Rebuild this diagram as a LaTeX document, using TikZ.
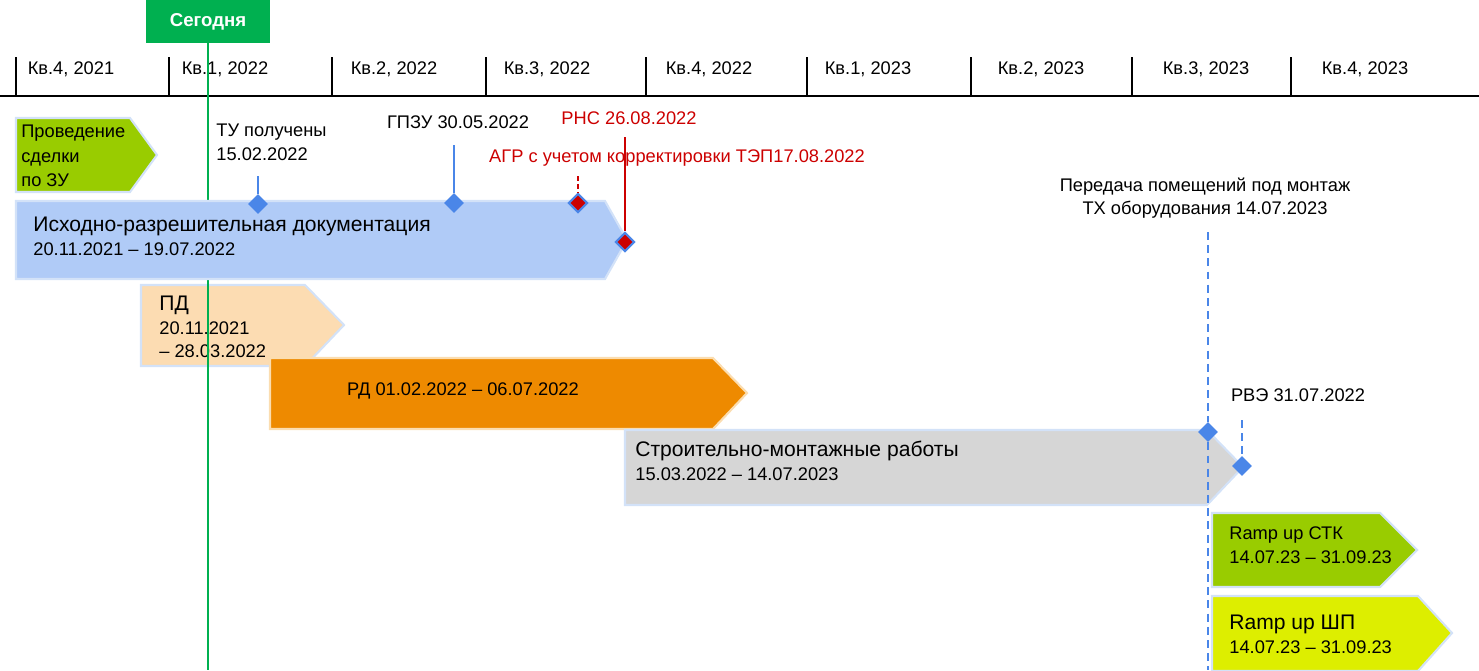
\documentclass[tikz,border=0pt]{standalone}
\usepackage{fontspec}
\setmainfont{Liberation Sans}
\usetikzlibrary{shapes.geometric}
\definecolor{todaygreen}{HTML}{00B050}
\definecolor{zugreen}{HTML}{99CC00}
\definecolor{irdblue}{HTML}{B0CBF7}
\definecolor{baredge}{HTML}{D3E2F8}
\definecolor{pdpeach}{HTML}{FCDCB2}
\definecolor{rdorange}{HTML}{EE8A00}
\definecolor{rdedge}{HTML}{FBDDB0}
\definecolor{smrgrey}{HTML}{D6D6D6}
\definecolor{shpyellow}{HTML}{DDEE00}
\definecolor{msblue}{HTML}{4A86E8}
\definecolor{msred}{HTML}{CC0000}
\newcommand\barttl{\fontsize{12}{14.5}\selectfont}
\tikzset{
  lbl/.style={font=\fontsize{10.4}{13.5}\selectfont, align=left, inner sep=0pt},
  bar/.style={fill=#1, draw=baredge, line width=1.2pt},
  ms/.style={diamond, fill=msblue, inner sep=0pt, minimum size=0.4cm},
  redms/.style={diamond, fill=msred, draw=msblue, line width=1.2pt, inner sep=0pt, minimum size=0.38cm},
  msline/.style={msblue, line width=1.1pt},
  msdash/.style={msblue, line width=1.1pt, dash pattern=on 4.5pt off 3pt},
}
\begin{document}
\begin{tikzpicture}[x=0.02cm, y=-0.02cm]
    \useasboundingbox (0,0) rectangle (1479,670);
    \draw[line width=1.1pt] (0,96) -- (1479,96);
    \foreach \x in {16,169,332,486,646,807,971,1132,1291}
        \draw[line width=0.9pt] (\x,57) -- (\x,96);
    \foreach \x/\q [count=\i] in {71/{Кв.4, 2021},225/{Кв.1, 2022},394/{Кв.2, 2022},547/{Кв.3, 2022},709/{Кв.4, 2022},868/{Кв.1, 2023},1041/{Кв.2, 2023},1206/{Кв.3, 2023},1365/{Кв.4, 2023}}
        \node[lbl] (q\i) at (\x,69) {\q};
    \path[bar=zugreen] (16,118) -- (130,118) -- (157,155) -- (130,192) -- (16,192) -- cycle;
    \node[lbl, anchor=west, font=\fontsize{10.4}{14}\selectfont] (zu) at (21,156) {Проведение\\сделки\\по ЗУ};
    \path[bar=pdpeach] (141,285) -- (305,285) -- (344,325) -- (305,366) -- (141,366) -- cycle;
    \node[lbl, anchor=west] (pd) at (159,327) {{\barttl ПД}\\20.11.2021\\– 28.03.2022};
    \node[fill=todaygreen, text=white, font=\fontsize{10.6}{12}\selectfont\bfseries, minimum width=2.5cm, minimum height=0.86cm, inner sep=0pt] (today) at (208,21.5) {Сегодня};
    \coordinate (todayend) at (208,670);
    \draw[todaygreen, line width=0.8pt] (today.south) -- (todayend);
    \path[bar=irdblue] (16,201) -- (605,201) -- (627,240) -- (605,279) -- (16,279) -- cycle;
    \node[lbl, anchor=west] (ird) at (33,236) {{\barttl Исходно-разрешительная документация}\\20.11.2021 – 19.07.2022};
    \path[bar=rdorange, draw=rdedge] (270,358) -- (713,358) -- (747,393) -- (713,429) -- (270,429) -- cycle;
    \node[lbl] (rd) at (463,391) {РД 01.02.2022 – 06.07.2022};
    \path[bar=smrgrey] (625,430) -- (1207,430) -- (1243,467) -- (1207,505) -- (625,505) -- cycle;
    \node[lbl, anchor=west] (smr) at (635,461) {{\barttl Строительно-монтажные работы}\\15.03.2022 – 14.07.2023};
    \path[bar=zugreen] (1212,513) -- (1380,513) -- (1417,550) -- (1380,587) -- (1212,587) -- cycle;
    \node[lbl, anchor=west] (stk) at (1229,545) {Ramp up СТК\\14.07.23 – 31.09.23};
    \path[bar=shpyellow] (1212,596) -- (1418,596) -- (1452,633) -- (1418,671) -- (1212,671) -- cycle;
    \node[lbl, anchor=west] (shp) at (1229,634) {{\barttl Ramp up ШП}\\14.07.23 – 31.09.23};
    \node[lbl, anchor=west] (tulbl) at (216,142) {ТУ получены\\15.02.2022};
    \coordinate (tutop) at (258,176);
    \node[ms] (tu) at (258,204) {};
    \draw[msline] (tutop) -- (tu);
    \node[lbl] (gpzulbl) at (458,122) {ГПЗУ 30.05.2022};
    \coordinate (gpzutop) at (454,145);
    \node[ms] (gpzu) at (454,203) {};
    \draw[msline] (gpzutop) -- (gpzu);
    \node[lbl, text=msred] (rnslbl) at (629,118) {РНС 26.08.2022};
    \node[lbl, text=msred] (agrlbl) at (677,158) {АГР с учетом корректировки ТЭП17.08.2022};
    \coordinate (rnstop) at (625,137);
    \node[redms] (rns) at (625,242) {};
    \draw[msred, line width=1pt] (rnstop) -- (rns);
    \coordinate (agrtop) at (578,176);
    \node[redms] (agr) at (578,203) {};
    \draw[msred, line width=1pt, dash pattern=on 3pt off 1.5pt] (agrtop) -- (agr);
    \node[lbl, align=center] (perlbl) at (1205,198) {Передача помещений под монтаж\\ТХ оборудования 14.07.2023};
    \coordinate (pertop) at (1208,232);
    \coordinate (perend) at (1208,670);
    \node[ms] (per) at (1208,432) {};
    \draw[msdash] (pertop) -- (per) -- (perend);
    \node[lbl] (rvelbl) at (1298,395) {РВЭ 31.07.2022};
    \coordinate (rvetop) at (1242,420);
    \node[ms] (rve) at (1242,466) {};
    \draw[msdash] (rvetop) -- (rve);
\end{tikzpicture}
\end{document}
